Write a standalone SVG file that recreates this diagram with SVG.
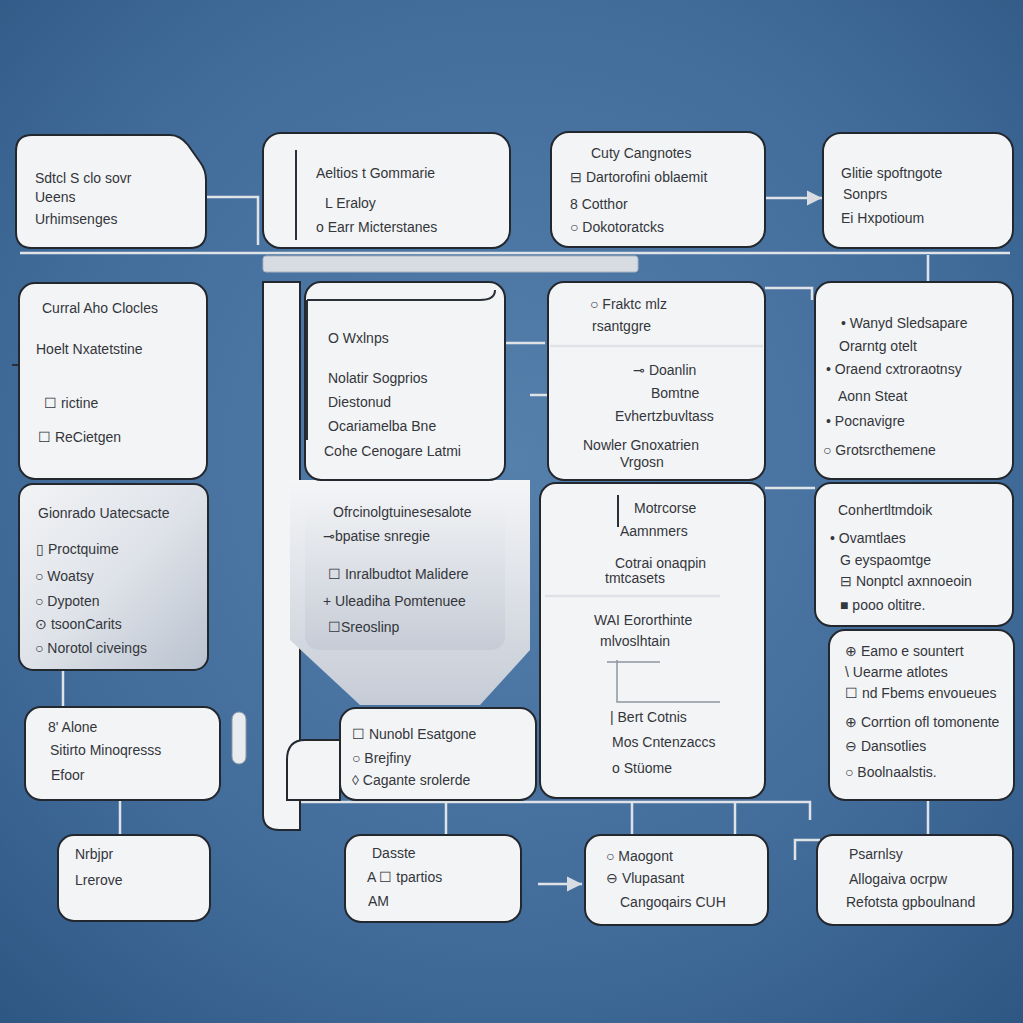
<svg xmlns="http://www.w3.org/2000/svg" width="1023" height="1023" viewBox="0 0 1023 1023">
<defs>
<radialGradient id="bg" cx="0.5" cy="0.45" r="0.75">
<stop offset="0" stop-color="#5580ac"/>
<stop offset="0.6" stop-color="#426d9b"/>
<stop offset="1" stop-color="#2e5683"/>
</radialGradient>
<linearGradient id="shade" x1="0" y1="0" x2="1" y2="1">
<stop offset="0" stop-color="#f2f3f5"/>
<stop offset="0.5" stop-color="#dfe3e9"/>
<stop offset="1" stop-color="#b9c2cf"/>
</linearGradient>
<linearGradient id="shade2" x1="0" y1="0" x2="0" y2="1">
<stop offset="0" stop-color="#f4f5f7"/>
<stop offset="1" stop-color="#c6ccd6"/>
</linearGradient>
<marker id="arr" markerWidth="8" markerHeight="8" refX="6" refY="4" orient="auto">
<path d="M0,1 L6,4 L0,7 z" fill="#d9dde3"/>
</marker>
<style>
.box{fill:#f3f4f6;stroke:#23272e;stroke-width:2}
.sh{fill:url(#shade);stroke:#23272e;stroke-width:2}
.t{font-family:"Liberation Sans",Arial,sans-serif;font-size:14px;fill:#33363b}
.c{stroke:#dfe3e8;stroke-width:2.5;fill:none}
.cd{stroke:#2b3038;stroke-width:2;fill:none}
.bar{fill:#d7dce3;stroke:#aab3bf;stroke-width:1}
</style>
</defs>
<rect width="1023" height="1023" fill="url(#bg)"/>

<g id="connectors">
<line class="c" x1="20" y1="253" x2="1010" y2="253"/>
<rect class="bar" x="263" y="256" width="375" height="16" rx="3"/>
<path class="c" d="M197,197 H258 V245"/>
<line class="c" x1="765" y1="198" x2="822" y2="198" marker-end="url(#arr)"/>
<line class="c" x1="928" y1="255" x2="928" y2="282"/>
<path class="c" d="M765,288 H812 V300"/>
<line class="cd" x1="12" y1="365" x2="80" y2="365"/>
<line class="c" x1="470" y1="343" x2="545" y2="343"/>
<path class="c" d="M530,395 H600 V430"/>
<line class="c" x1="63" y1="670" x2="63" y2="707"/>
<line class="c" x1="765" y1="488" x2="815" y2="488"/>
<line class="cd" x1="720" y1="564" x2="765" y2="564"/>
<path class="c" d="M290,802 H810 V820"/>
<line class="c" x1="120" y1="800" x2="120" y2="835" stroke-width="6"/>
<line class="c" x1="446" y1="802" x2="446" y2="835"/>
<line class="c" x1="632" y1="802" x2="632" y2="835"/>
<line class="c" x1="735" y1="802" x2="735" y2="835"/>
<line class="c" x1="928" y1="800" x2="928" y2="835"/>
<line class="c" x1="538" y1="884" x2="582" y2="884" marker-end="url(#arr)"/>
<rect x="232" y="712" width="14" height="52" rx="7" fill="#e9ecef" stroke="#8d96a3"/>
<path class="c" d="M795,860 V840 H820"/>
</g>

<g id="backdrop">
<path d="M263,282 H300 V830 H280 Q263,830 263,815 Z" fill="#f3f4f6" stroke="#23272e" stroke-width="2"/>
<path d="M290,640 L360,705 H480 L530,650 V480 H290 Z" fill="url(#shade2)"/>
</g>

<g id="n1">
<path class="box" d="M32,135 H170 Q180,135 188,145 L200,162 Q206,170 206,180 V232 Q206,248 190,248 H32 Q16,248 16,232 V151 Q16,135 32,135 Z"/>
<text class="t" x="35" y="183">Sdtcl S clo sovr</text>
<text class="t" x="35" y="202">Ueens</text>
<text class="t" x="35" y="224">Urhimsenges</text>
</g>
<g id="n2">
<rect class="box" x="263" y="133" width="247" height="115" rx="18"/>
<line class="cd" x1="296" y1="150" x2="296" y2="240"/>
<text class="t" x="316" y="178">Aeltios t Gommarie</text>
<text class="t" x="325" y="208">L Eraloy</text>
<text class="t" x="316" y="232">o Earr Micterstanes</text>
</g>
<g id="n3">
<rect class="box" x="551" y="132" width="214" height="115" rx="18"/>
<text class="t" x="591" y="158">Cuty Cangnotes</text>
<text class="t" x="570" y="182">⊟ Dartorofini oblaemit</text>
<text class="t" x="570" y="209">8 Cotthor</text>
<text class="t" x="570" y="232">○ Dokotoratcks</text>
</g>
<g id="n4">
<rect class="box" x="823" y="133" width="190" height="115" rx="18"/>
<text class="t" x="841" y="178">Glitie spoftngote</text>
<text class="t" x="843" y="199">Sonprs</text>
<text class="t" x="841" y="223">Ei Hxpotioum</text>
</g>

<g id="n5">
<rect class="box" x="19" y="283" width="188" height="196" rx="16"/>
<text class="t" x="42" y="313">Curral Aho Clocles</text>
<text class="t" x="36" y="354">Hoelt Nxatetstine</text>
<text class="t" x="44" y="408">☐ rictine</text>
<text class="t" x="38" y="442">☐ ReCietgen</text>
</g>
<g id="n6">
<rect class="box" x="305" y="282" width="200" height="198" rx="16"/>
<path class="cd" d="M307,300 H480 Q495,300 495,290"/>
<line class="cd" x1="307" y1="300" x2="307" y2="440"/>
<text class="t" x="328" y="343">O Wxlnps</text>
<text class="t" x="328" y="383">Nolatir Sogprios</text>
<text class="t" x="328" y="407">Diestonud</text>
<text class="t" x="328" y="431">Ocariamelba Bne</text>
<text class="t" x="324" y="456">Cohe Cenogare Latmi</text>
</g>
<g id="n7">
<rect class="box" x="548" y="282" width="217" height="198" rx="16"/>
<line class="c" x1="550" y1="346" x2="763" y2="346" stroke="#aab3bf"/>
<text class="t" x="590" y="309">○ Fraktc mlz</text>
<text class="t" x="592" y="331">rsantggre</text>
<text class="t" x="633" y="375">⊸ Doanlin</text>
<text class="t" x="651" y="398">Bomtne</text>
<text class="t" x="615" y="421">Evhertzbuvltass</text>
<text class="t" x="583" y="450">Nowler Gnoxatrien</text>
<text class="t" x="620" y="467">Vrgosn</text>
</g>
<g id="n8">
<rect class="box" x="815" y="282" width="198" height="197" rx="16"/>
<text class="t" x="841" y="328">• Wanyd Sledsapare</text>
<text class="t" x="839" y="351">Orarntg otelt</text>
<text class="t" x="826" y="374">• Oraend cxtroraotnsy</text>
<text class="t" x="838" y="401">Aonn Steat</text>
<text class="t" x="826" y="426">• Pocnavigre</text>
<text class="t" x="823" y="455">○ Grotsrcthemene</text>
</g>

<g id="n9">
<rect class="sh" x="19" y="484" width="189" height="186" rx="14"/>
<text class="t" x="38" y="518">Gionrado Uatecsacte</text>
<text class="t" x="36" y="554">▯ Proctquime</text>
<text class="t" x="35" y="581">○ Woatsy</text>
<text class="t" x="35" y="606">○ Dypoten</text>
<text class="t" x="35" y="629">⊙ tsoonCarits</text>
<text class="t" x="35" y="653">○ Norotol civeings</text>
</g>
<g id="n10">
<rect x="305" y="483" width="200" height="167" rx="14" fill="url(#shade2)"/>
<text class="t" x="333" y="517">Ofrcinolgtuinesesalote</text>
<text class="t" x="323" y="541">⊸bpatise snregie</text>
<text class="t" x="328" y="579">☐ Inralbudtot Malidere</text>
<text class="t" x="323" y="606">+ Uleadiha Pomtenuee</text>
<text class="t" x="328" y="632">☐Sreoslinp</text>
</g>
<g id="n11">
<rect class="box" x="540" y="483" width="225" height="315" rx="16"/>
<line class="cd" x1="618" y1="495" x2="618" y2="527"/>
<line class="c" x1="545" y1="596" x2="720" y2="596" stroke="#8c96a3"/>
<path d="M617,660 V702 H720 M607,662 H660" stroke="#8c96a3" stroke-width="1.5" fill="none"/>
<text class="t" x="634" y="513">Motrcorse</text>
<text class="t" x="620" y="536" font-size="12">Aamnmers</text>
<text class="t" x="615" y="568">Cotrai onaqpin</text>
<text class="t" x="605" y="583" font-size="12">tmtcasets</text>
<text class="t" x="594" y="625">WAI Eororthinte</text>
<text class="t" x="600" y="646" font-size="12">mlvoslhtain</text>
<text class="t" x="610" y="722">| Bert Cotnis</text>
<text class="t" x="612" y="747">Mos Cntenzaccs</text>
<text class="t" x="612" y="773">o Stüome</text>
</g>
<g id="n12">
<rect class="box" x="815" y="483" width="198" height="143" rx="16"/>
<text class="t" x="838" y="515">Conhertltmdoik</text>
<text class="t" x="830" y="543">• Ovamtlaes</text>
<text class="t" x="840" y="565">G eyspaomtge</text>
<text class="t" x="840" y="586">⊟ Nonptcl axnnoeoin</text>
<text class="t" x="840" y="610">■ pooo oltitre.</text>
</g>

<g id="n13">
<rect class="box" x="25" y="707" width="195" height="93" rx="16"/>
<text class="t" x="48" y="732">8' Alone</text>
<text class="t" x="50" y="755">Sitirto Minoqresss</text>
<text class="t" x="51" y="780">Efoor</text>
</g>
<g id="n14">
<path class="box" d="M287,760 Q287,740 305,740 H340 V800 H287 Z"/>
<rect class="box" x="340" y="708" width="196" height="92" rx="16"/>
<text class="t" x="352" y="739">☐ Nunobl Esatgone</text>
<text class="t" x="352" y="763">○ Brejfiny</text>
<text class="t" x="352" y="785">◊ Cagante srolerde</text>
</g>
<g id="n15">
<rect class="box" x="829" y="630" width="185" height="170" rx="16"/>
<text class="t" x="845" y="656">⊕ Eamo e sountert</text>
<text class="t" x="845" y="677">\ Uearme atlotes</text>
<text class="t" x="845" y="698">☐ nd Fbems envoueues</text>
<text class="t" x="845" y="727">⊕ Corrtion ofl tomonente</text>
<text class="t" x="845" y="751">⊖ Dansotlies</text>
<text class="t" x="845" y="777">○ Boolnaalstis.</text>
</g>

<g id="n16">
<rect class="box" x="58" y="835" width="152" height="86" rx="16"/>
<text class="t" x="75" y="859">Nrbjpr</text>
<text class="t" x="75" y="885">Lrerove</text>
</g>
<g id="n17">
<rect class="box" x="345" y="835" width="176" height="87" rx="16"/>
<text class="t" x="372" y="858">Dasste</text>
<text class="t" x="367" y="882">A ☐ tpartios</text>
<text class="t" x="368" y="906">AM</text>
</g>
<g id="n18">
<rect class="box" x="585" y="835" width="183" height="90" rx="16"/>
<text class="t" x="606" y="861">○ Maogont</text>
<text class="t" x="606" y="883">⊖ Vlupasant</text>
<text class="t" x="620" y="907">Cangoqairs CUH</text>
</g>
<g id="n19">
<rect class="box" x="817" y="835" width="196" height="90" rx="16"/>
<text class="t" x="849" y="859">Psarnlsy</text>
<text class="t" x="849" y="884">Allogaiva ocrpw</text>
<text class="t" x="846" y="907">Refotsta gpboulnand</text>
</g>
</svg>
